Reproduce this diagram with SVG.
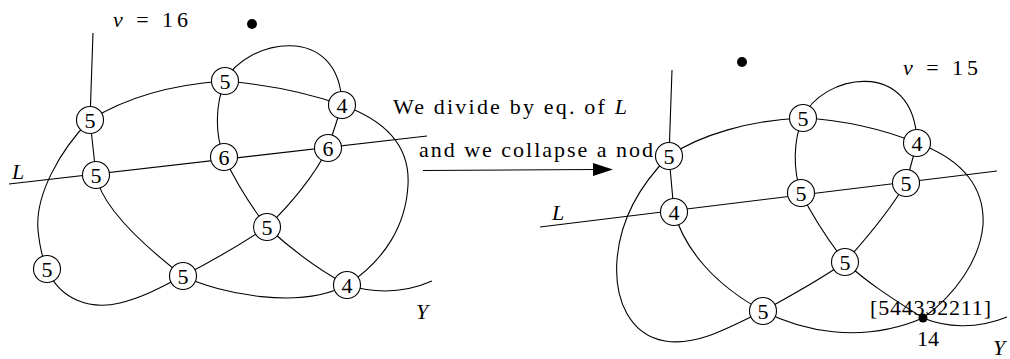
<svg xmlns="http://www.w3.org/2000/svg" width="1010" height="359" viewBox="0 0 1010 359">
<style>
.edge{fill:none;stroke:#000;stroke-width:1.1}
.node circle{fill:#fff;stroke:#000;stroke-width:1.1}
text{font-family:'Liberation Serif','DejaVu Serif',serif;font-size:22px;fill:#000}
.node text{text-anchor:middle}
.it{font-style:italic}
.dot{fill:#000}
</style>
<g id="connectors">
<path class="edge" d="M93,33 L90,120 L96,175"/>
<path class="edge" d="M90,120 C130,95 180,84 225,81"/>
<path class="edge" d="M225,81 C260,84 300,90 342,105"/>
<path class="edge" d="M225,81 C245,40 340,20 342,105"/>
<path class="edge" d="M225,81 C215,105 215,135 224,157"/>
<path class="edge" d="M342,105 L328,148"/>
<path class="edge" d="M342,105 C390,122 410,150 408,185 C406,225 385,260 347,285"/>
<path class="edge" d="M90,120 C60,150 35,195 38,230 C40,250 43,260 47,269"/>
<path class="edge" d="M47,269 C60,300 90,310 120,303 C145,297 165,285 183,276"/>
<path class="edge" d="M96,175 C100,200 130,235 183,276"/>
<path class="edge" d="M183,276 C210,262 240,245 267,227"/>
<path class="edge" d="M267,227 C290,205 315,175 328,148"/>
<path class="edge" d="M224,157 C235,180 250,205 267,227"/>
<path class="edge" d="M267,227 C290,248 315,268 347,285"/>
<path class="edge" d="M183,276 C220,294 300,310 347,285"/>
<path class="edge" d="M347,285 C370,292 400,295 432,281"/>
<path class="edge" d="M9,184 L427,136"/>
<path class="edge" d="M423,170.5 L596,169.5"/>
<path class="dot" d="M613,169.5 L593,163 L593,176 Z"/>
<path class="edge" d="M672,70 L669,156 L674,212"/>
<path class="edge" d="M669,156 C700,135 750,120 803,118"/>
<path class="edge" d="M803,118 C840,120 880,128 917,143"/>
<path class="edge" d="M803,118 C820,75 915,55 917,143"/>
<path class="edge" d="M803,118 C793,140 793,170 801,193"/>
<path class="edge" d="M917,143 L906,183"/>
<path class="edge" d="M917,143 C965,160 985,190 983,225 C980,260 955,295 923,318"/>
<path class="edge" d="M669,156 C640,185 620,220 617,260 C614,300 630,335 665,341 C695,346 725,330 763,311"/>
<path class="edge" d="M674,212 C685,250 715,285 763,311"/>
<path class="edge" d="M763,311 C790,296 820,280 845,262"/>
<path class="edge" d="M801,193 C812,215 828,240 845,262"/>
<path class="edge" d="M845,262 C865,240 890,210 906,183"/>
<path class="edge" d="M845,262 C870,285 895,300 923,318"/>
<path class="edge" d="M763,311 C800,330 860,345 923,318"/>
<path class="edge" d="M923,318 C945,327 975,330 1007,317"/>
<path class="edge" d="M540,227 L997,171"/>
</g>
<g id="labels">
<text x="113" y="27" textLength="75"><tspan class="it">v</tspan> = 16</text>
<circle class="dot" cx="252" cy="24" r="5"/>
<text class="it" x="12" y="179">L</text>
<text class="it" x="416" y="319">Y</text>
<text x="393" y="114" textLength="234">We divide by eq. of <tspan class="it">L</tspan></text>
<text x="419" y="157" textLength="234">and we collapse a nod</text>
<circle class="dot" cx="742" cy="62" r="5"/>
<text x="903" y="75" textLength="75"><tspan class="it">v</tspan> = 15</text>
<text class="it" x="552" y="220">L</text>
<text class="it" x="993" y="355">Y</text>
</g>
<g id="n1" class="node"><circle cx="90" cy="120" r="13.5"/><text x="90" y="127.5">5</text></g>
<g id="n2" class="node"><circle cx="225" cy="81" r="13.5"/><text x="225" y="88.5">5</text></g>
<g id="n3" class="node"><circle cx="342" cy="105" r="13.5"/><text x="342" y="112.5">4</text></g>
<g id="n4" class="node"><circle cx="96" cy="175" r="13.5"/><text x="96" y="182.5">5</text></g>
<g id="n5" class="node"><circle cx="224" cy="157" r="13.5"/><text x="224" y="164.5">6</text></g>
<g id="n6" class="node"><circle cx="328" cy="148" r="13.5"/><text x="328" y="155.5">6</text></g>
<g id="n7" class="node"><circle cx="267" cy="227" r="13.5"/><text x="267" y="234.5">5</text></g>
<g id="n8" class="node"><circle cx="47" cy="269" r="13.5"/><text x="47" y="276.5">5</text></g>
<g id="n9" class="node"><circle cx="183" cy="276" r="13.5"/><text x="183" y="283.5">5</text></g>
<g id="n10" class="node"><circle cx="347" cy="285" r="13.5"/><text x="347" y="292.5">4</text></g>
<g id="r1" class="node"><circle cx="669" cy="156" r="13.5"/><text x="669" y="163.5">5</text></g>
<g id="r2" class="node"><circle cx="803" cy="118" r="13.5"/><text x="803" y="125.5">5</text></g>
<g id="r3" class="node"><circle cx="917" cy="143" r="13.5"/><text x="917" y="150.5">4</text></g>
<g id="r4" class="node"><circle cx="674" cy="212" r="13.5"/><text x="674" y="219.5">4</text></g>
<g id="r5" class="node"><circle cx="801" cy="193" r="13.5"/><text x="801" y="200.5">5</text></g>
<g id="r6" class="node"><circle cx="906" cy="183" r="13.5"/><text x="906" y="190.5">5</text></g>
<g id="r7" class="node"><circle cx="845" cy="262" r="13.5"/><text x="845" y="269.5">5</text></g>
<g id="r8" class="node"><circle cx="763" cy="311" r="13.5"/><text x="763" y="318.5">5</text></g>
<g id="collapsed">
<text x="870" y="315" textLength="121">[544332211]</text>
<circle class="dot" cx="923" cy="318" r="4.5"/>
<text x="917" y="346" textLength="22">14</text>
</g>
</svg>
